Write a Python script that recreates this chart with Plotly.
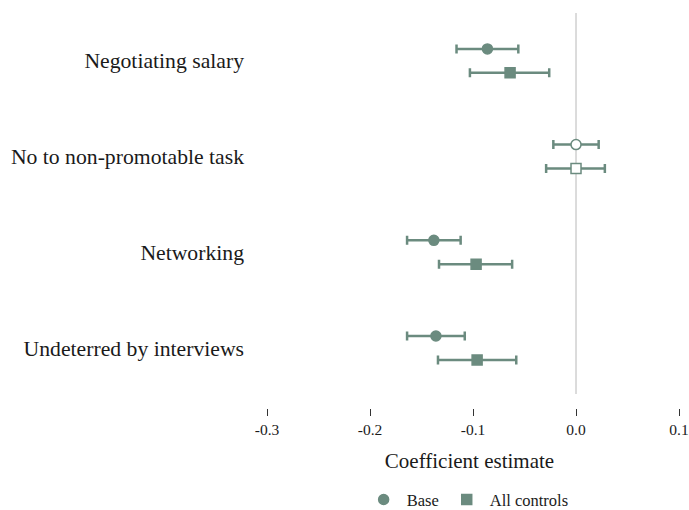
import plotly.graph_objects as go

# Outcomes, listed top to bottom
categories = ["Negotiating salary", "No to non-promotable task",
              "Networking", "Undeterred by interviews"]

# Base specification: point estimate and 95% CI bounds
base_est = [-0.086, 0.000, -0.138, -0.136]
base_lo = [-0.116, -0.022, -0.164, -0.164]
base_hi = [-0.056, 0.022, -0.112, -0.108]
base_signif = [True, False, True, True]

# Specification with all controls
ctrl_est = [-0.064, 0.000, -0.097, -0.096]
ctrl_lo = [-0.103, -0.029, -0.133, -0.134]
ctrl_hi = [-0.026, 0.028, -0.062, -0.058]
ctrl_signif = [True, False, True, True]

tick_vals = [-0.3, -0.2, -0.1, 0.0, 0.1]

COLOR = "#6b8b7f"
FONT = "Liberation Serif"
offset = 0.125
n = len(categories)
centers = [n - 1 - i for i in range(n)]


def add_series(fig, name, est, lo, hi, signif, symbol, shift):
    fig.add_trace(go.Scatter(
        x=est,
        y=[c + shift for c in centers],
        mode="markers",
        name=name,
        marker=dict(
            symbol=symbol,
            size=10,
            color=[COLOR if s else "white" for s in signif],
            line=dict(color=COLOR, width=1.5),
        ),
        error_x=dict(
            type="data",
            symmetric=False,
            array=[h - e for h, e in zip(hi, est)],
            arrayminus=[e - l for e, l in zip(est, lo)],
            color=COLOR,
            thickness=2.5,
            width=4.5,
        ),
    ))


fig = go.Figure()
add_series(fig, "Base", base_est, base_lo, base_hi, base_signif, "circle", offset)
add_series(fig, "All controls", ctrl_est, ctrl_lo, ctrl_hi, ctrl_signif, "square", -offset)

# Vertical reference line at zero
fig.add_shape(type="line", x0=0, x1=0, y0=-0.48, y1=3.5,
              xref="x", yref="y", line=dict(color="#c8c8c8", width=1.3),
              layer="below")

fig.update_layout(
    template="none",
    width=689,
    height=510,
    margin=dict(l=250, r=0, t=13, b=102),
    paper_bgcolor="white",
    plot_bgcolor="white",
    font=dict(family=FONT, color="#1a1a1a"),
    showlegend=True,
    legend=dict(
        orientation="h",
        x=0.678, xanchor="center",
        xref="container",
        yref="container",
        y=0.02, yanchor="middle",
        font=dict(size=16.5, family=FONT),
        itemwidth=36,
        bgcolor="rgba(0,0,0,0)",
    ),
    xaxis=dict(
        automargin=False,
        range=[-0.3165, 0.1097],
        tickvals=tick_vals,
        ticktext=[f"{v:.1f}" for v in tick_vals],
        ticks="outside",
        ticklen=7,
        tickwidth=1,
        tickcolor="#333333",
        showgrid=False,
        zeroline=False,
        showline=False,
        tickfont=dict(size=15.5, family=FONT),
        title=dict(text="Coefficient estimate", font=dict(size=21, family=FONT), standoff=16),
    ),
    yaxis=dict(
        automargin=False,
        range=[-0.627, 3.5],
        tickvals=centers,
        ticktext=categories,
        ticks="",
        showgrid=False,
        zeroline=False,
        showline=False,
        tickfont=dict(size=21.7, family=FONT),
        ticklabelstandoff=5,
    ),
)

fig.write_html("out.html")
